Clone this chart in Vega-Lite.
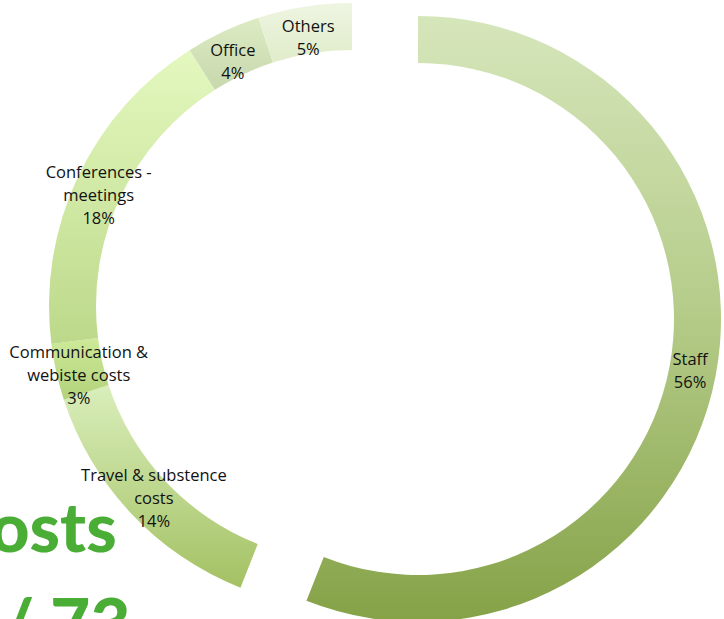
{
  "$schema": "https://vega.github.io/schema/vega-lite/v6.json",
  "width": 724,
  "height": 619,
  "autosize": {"type": "none"},
  "padding": 0,
  "background": "white",
  "view": {"stroke": null},
  "title": {
    "text": "Costs",
    "subtitle": "1 / 73",
    "orient": "top",
    "anchor": "start",
    "frame": "group",
    "font": "Lato",
    "fontSize": 69,
    "fontWeight": 900,
    "color": "#4aad35",
    "subtitleFont": "Lato",
    "subtitleFontSize": 69,
    "subtitleFontWeight": 900,
    "subtitleColor": "#4aad35",
    "subtitlePadding": 27,
    "dx": -55,
    "dy": 667
  },
  "data": {
    "values": [
      {"item": "Staff", "value": 56, "order": 1, "label": "Staff\n56%"},
      {"item": "Travel & substence costs", "value": 14, "order": 2, "label": "Travel & substence\ncosts\n14%"},
      {"item": "Communication & webiste costs", "value": 3, "order": 3, "label": "Communication &\nwebiste costs\n3%"},
      {"item": "Conferences - meetings", "value": 18, "order": 4, "label": "Conferences -\nmeetings\n18%"},
      {"item": "Office", "value": 4, "order": 5, "label": "Office\n4%"},
      {"item": "Others", "value": 5, "order": 6, "label": "Others\n5%"}
    ]
  },
  "transform": [
    {"stack": "value", "groupby": [], "sort": [{"field": "order", "order": "ascending"}], "as": ["v0", "v1"]}
  ],
  "layer": [
    {
      "transform": [{"filter": "datum.item === 'Staff'"}],
      "mark": {"type": "arc", "outerRadius": 303, "innerRadius": 256, "xOffset": 56, "yOffset": 9.5, "stroke": null,
        "fill": {"gradient": "linear", "x1": 0, "y1": 0, "x2": 0, "y2": 1, "stops": [{"offset": 0, "color": "#d6e6bb"}, {"offset": 0.5, "color": "#b4cb88"}, {"offset": 1, "color": "#85a247"}]}},
      "encoding": {
        "theta": {"field": "v0", "type": "quantitative", "scale": {"domain": [0, 100]}},
        "theta2": {"field": "v1"}
      }
    },
    {
      "transform": [{"filter": "datum.item === 'Travel & substence costs'"}],
      "mark": {"type": "arc", "outerRadius": 303, "innerRadius": 256, "xOffset": -10, "yOffset": -3.5, "stroke": null,
        "fill": {"gradient": "linear", "x1": 0, "y1": 0, "x2": 0, "y2": 1, "stops": [{"offset": 0, "color": "#d9eebb"}, {"offset": 1, "color": "#a4c163"}]}},
      "encoding": {
        "theta": {"field": "v0", "type": "quantitative"},
        "theta2": {"field": "v1"}
      }
    },
    {
      "transform": [{"filter": "datum.item === 'Communication & webiste costs'"}],
      "mark": {"type": "arc", "outerRadius": 303, "innerRadius": 256, "xOffset": -10, "yOffset": -3.5, "stroke": null,
        "fill": {"gradient": "linear", "x1": 0, "y1": 0, "x2": 0, "y2": 1, "stops": [{"offset": 0, "color": "#cdea98"}, {"offset": 1, "color": "#b3d27b"}]}},
      "encoding": {
        "theta": {"field": "v0", "type": "quantitative"},
        "theta2": {"field": "v1"}
      }
    },
    {
      "transform": [{"filter": "datum.item === 'Conferences - meetings'"}],
      "mark": {"type": "arc", "outerRadius": 303, "innerRadius": 256, "xOffset": -10, "yOffset": -3.5, "stroke": null,
        "fill": {"gradient": "linear", "x1": 0, "y1": 0, "x2": 0, "y2": 1, "stops": [{"offset": 0, "color": "#e4f8bf"}, {"offset": 1, "color": "#bcd98a"}]}},
      "encoding": {
        "theta": {"field": "v0", "type": "quantitative"},
        "theta2": {"field": "v1"}
      }
    },
    {
      "transform": [{"filter": "datum.item === 'Office'"}],
      "mark": {"type": "arc", "outerRadius": 303, "innerRadius": 256, "xOffset": -10, "yOffset": -3.5, "stroke": null,
        "fill": {"gradient": "linear", "x1": 0, "y1": 0, "x2": 0, "y2": 1, "stops": [{"offset": 0, "color": "#dcebc3"}, {"offset": 1, "color": "#c8d8ad"}]}},
      "encoding": {
        "theta": {"field": "v0", "type": "quantitative"},
        "theta2": {"field": "v1"}
      }
    },
    {
      "transform": [{"filter": "datum.item === 'Others'"}],
      "mark": {"type": "arc", "outerRadius": 303, "innerRadius": 256, "xOffset": -10, "yOffset": -3.5, "stroke": null,
        "fill": {"gradient": "linear", "x1": 0, "y1": 0, "x2": 0, "y2": 1, "stops": [{"offset": 0, "color": "#eef5e2"}, {"offset": 1, "color": "#e0ecca"}]}},
      "encoding": {
        "theta": {"field": "v0", "type": "quantitative"},
        "theta2": {"field": "v1"}
      }
    },
    {
      "mark": {"type": "text", "radius": 280, "xOffset": -10, "yOffset": -3.5, "dy": -14, "font": "Open Sans", "fontSize": 16.5, "lineHeight": 23, "lineBreak": "\n", "align": "center", "baseline": "middle", "color": "#111111"},
      "encoding": {
        "theta": {"field": "value", "type": "quantitative", "stack": true},
        "order": {"field": "order", "type": "quantitative"},
        "text": {"condition": {"test": "datum.order === 3 || datum.order === 4", "field": "label"}, "value": ""}
      }
    },
    {
      "mark": {"type": "text", "radius": 280, "xOffset": -4, "yOffset": -3.5, "dy": -22, "font": "Open Sans", "fontSize": 16.5, "lineHeight": 23, "lineBreak": "\n", "align": "center", "baseline": "middle", "color": "#111111"},
      "encoding": {
        "theta": {"field": "value", "type": "quantitative", "stack": true},
        "order": {"field": "order", "type": "quantitative"},
        "text": {"condition": {"test": "datum.order === 2", "field": "label"}, "value": ""}
      }
    },
    {
      "mark": {"type": "text", "radius": 280, "xOffset": -10, "yOffset": -3.5, "dy": -2, "font": "Open Sans", "fontSize": 16.5, "lineHeight": 23, "lineBreak": "\n", "align": "center", "baseline": "middle", "color": "#111111"},
      "encoding": {
        "theta": {"field": "value", "type": "quantitative", "stack": true},
        "order": {"field": "order", "type": "quantitative"},
        "text": {"condition": {"test": "datum.order >= 5", "field": "label"}, "value": ""}
      }
    },
    {
      "mark": {"type": "text", "radius": 280, "xOffset": 53, "yOffset": 9.5, "dy": -11.5, "font": "Open Sans", "fontSize": 16.5, "lineHeight": 23, "lineBreak": "\n", "align": "center", "baseline": "middle", "color": "#111111"},
      "encoding": {
        "theta": {"field": "value", "type": "quantitative", "stack": true},
        "order": {"field": "order", "type": "quantitative"},
        "text": {"condition": {"test": "datum.item === 'Staff'", "field": "label"}, "value": ""}
      }
    }
  ]
}
